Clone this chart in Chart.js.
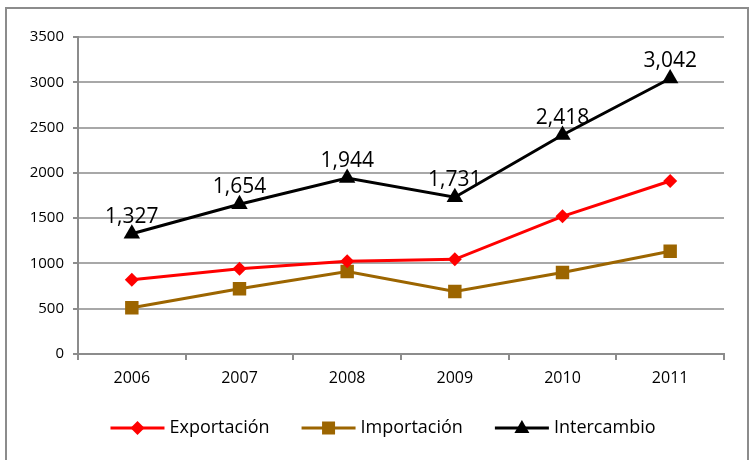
<!DOCTYPE html>
<html>
<head>
<meta charset="utf-8">
<script src="https://cdn.jsdelivr.net/npm/chart.js@4/dist/chart.umd.min.js"></script>
<style>
  body { margin: 0; background: #fff; }
  canvas { display: block; }
</style>
</head>
<body>
<canvas id="grafica" width="750" height="460"></canvas>
<script>
const anios = ['2006', '2007', '2008', '2009', '2010', '2011'];
const exportacion = [820, 940, 1025, 1045, 1520, 1910];
const importacion = [510, 720, 910, 690, 900, 1135];
const intercambio = [1327, 1654, 1944, 1731, 2418, 3042];
const ticksY = [0, 500, 1000, 1500, 2000, 2500, 3000, 3500];

const fuente = '"Open Sans", "Liberation Sans", sans-serif';

// marco gris alrededor de todo el grafico
const marco = {
    id: 'marco',
    beforeDraw(chart) {
        const ctx = chart.ctx;
        ctx.save();
        ctx.strokeStyle = '#8c8c8c';
        ctx.lineWidth = 2;
        ctx.strokeRect(6, 8, chart.width - 8, chart.height + 10);
        ctx.restore();
    }
};

// etiquetas de valor sobre la serie Intercambio
const etiquetas = {
    id: 'etiquetas',
    afterDatasetsDraw(chart) {
        const ctx = chart.ctx;
        const meta = chart.getDatasetMeta(2);
        ctx.save();
        ctx.font = '21px ' + fuente;
        ctx.fillStyle = '#000';
        ctx.textAlign = 'center';
        ctx.textBaseline = 'middle';
        meta.data.forEach((p, i) => {
            ctx.fillText(intercambio[i].toLocaleString('en-US'), p.x, p.y - 17);
        });
        ctx.restore();
    }
};

function dibujarMarcador(ctx, estilo, x, y, color) {
    ctx.fillStyle = color;
    ctx.beginPath();
    if (estilo === 'rectRot') {
        ctx.moveTo(x, y - 7); ctx.lineTo(x + 7, y); ctx.lineTo(x, y + 7); ctx.lineTo(x - 7, y);
    } else if (estilo === 'rect') {
        ctx.rect(x - 6.5, y - 6.5, 13, 13);
    } else {
        ctx.moveTo(x, y - 8); ctx.lineTo(x + 7.5, y + 5); ctx.lineTo(x - 7.5, y + 5);
    }
    ctx.closePath();
    ctx.fill();
}

// leyenda con linea y marcador
const leyenda = {
    id: 'leyenda',
    afterDraw(chart) {
        const ctx = chart.ctx;
        ctx.save();
        ctx.font = '18px ' + fuente;
        const largo = 54, hueco = 5, sep = 32;
        const items = chart.data.datasets.map(d => ({
            texto: d.label, color: d.borderColor, estilo: d.pointStyle,
            ancho: largo + hueco + ctx.measureText(d.label).width
        }));
        const total = items.reduce((s, it) => s + it.ancho, 0) + sep * (items.length - 1);
        let x = chart.width / 2 + 8 - total / 2;
        const y = 428;
        items.forEach(it => {
            ctx.strokeStyle = it.color;
            ctx.lineWidth = 3;
            ctx.beginPath();
            ctx.moveTo(x, y);
            ctx.lineTo(x + largo, y);
            ctx.stroke();
            dibujarMarcador(ctx, it.estilo, x + largo / 2, y, it.color);
            ctx.fillStyle = '#000';
            ctx.textBaseline = 'middle';
            ctx.textAlign = 'left';
            ctx.fillText(it.texto, x + largo + hueco, y);
            x += it.ancho + sep;
        });
        ctx.restore();
    }
};

new Chart(document.getElementById('grafica'), {
    type: 'line',
    data: {
        labels: anios,
        datasets: [
            {
                label: 'Exportación',
                data: exportacion,
                borderColor: '#ff0000',
                backgroundColor: '#ff0000',
                borderWidth: 3,
                pointStyle: 'rectRot',
                pointRadius: 7,
                pointBorderWidth: 0
            },
            {
                label: 'Importación',
                data: importacion,
                borderColor: '#9c6500',
                backgroundColor: '#9c6500',
                borderWidth: 3,
                pointStyle: 'rect',
                pointRadius: 9.5,
                pointBorderWidth: 0
            },
            {
                label: 'Intercambio',
                data: intercambio,
                borderColor: '#000000',
                backgroundColor: '#000000',
                borderWidth: 3,
                pointStyle: 'triangle',
                pointRadius: 9.5,
                pointBorderWidth: 0
            }
        ]
    },
    options: {
        responsive: false,
        animation: false,
        layout: { padding: { top: 37, right: 26, left: 0, bottom: 0 } },
        plugins: {
            legend: { display: false },
            tooltip: { enabled: false }
        },
        scales: {
            x: {
                offset: true,
                afterFit: s => { s.height = 106; },
                grid: { offset: true, drawOnChartArea: false, color: '#8c8c8c', lineWidth: 2, tickLength: 6 },
                border: { color: '#8c8c8c', width: 2 },
                ticks: { color: '#000', font: { family: fuente, size: 16 }, padding: 9 }
            },
            y: {
                min: 0,
                max: 3500,
                afterFit: s => { s.width = 78; },
                afterBuildTicks: s => { s.ticks = ticksY.map(v => ({ value: v })); },
                grid: { color: '#a8a8a8', lineWidth: 2, tickLength: 5, tickColor: '#8c8c8c' },
                border: { color: '#8c8c8c', width: 2 },
                ticks: {
                    color: '#000',
                    font: { family: fuente, size: 15 },
                    padding: 9,
                    callback: v => String(v)
                }
            }
        }
    },
    plugins: [marco, etiquetas, leyenda]
});
</script>
</body>
</html>
